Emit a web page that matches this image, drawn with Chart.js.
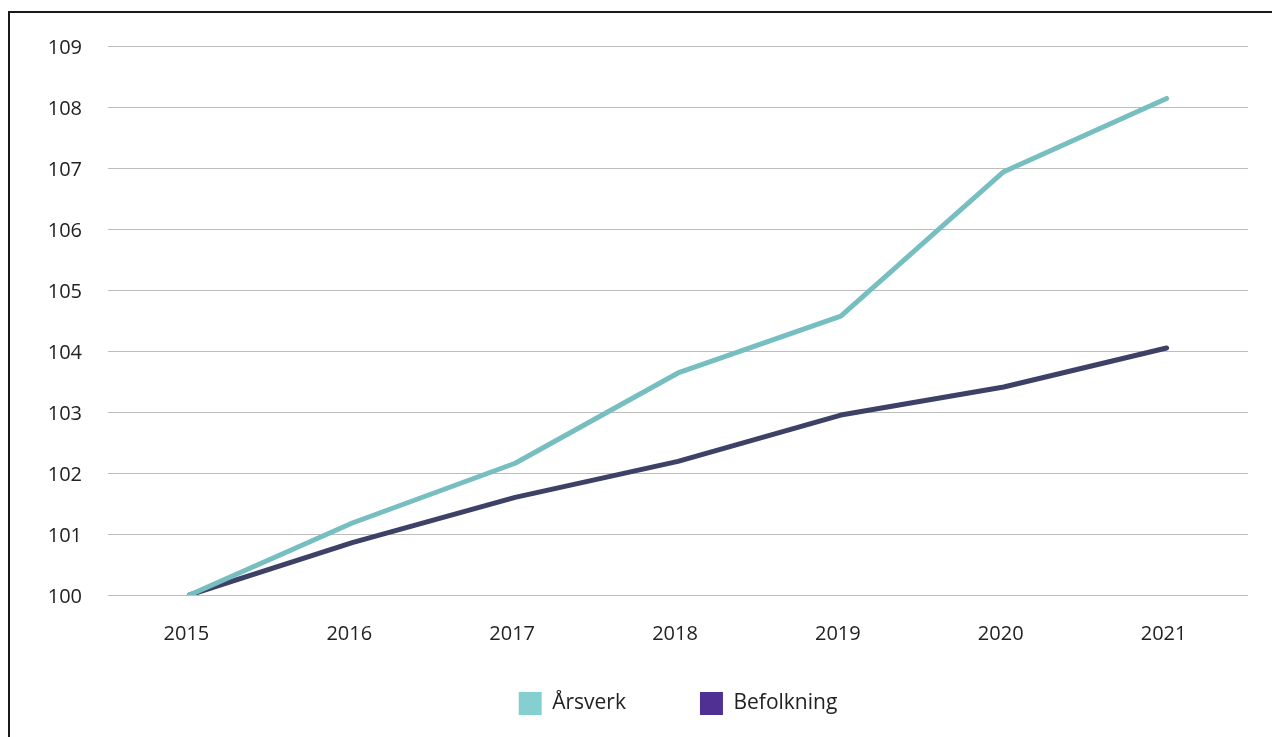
<!DOCTYPE html>
<html>
<head>
<meta charset="utf-8">
<script src="https://cdn.jsdelivr.net/npm/chart.js@4/dist/chart.umd.min.js"></script>
<style>
  html, body { margin: 0; padding: 0; background: #fff; }
  #wrap { position: relative; width: 1272px; height: 737px; overflow: hidden; }
  #frame { position: absolute; left: 8px; top: 11px; width: 1400px; height: 900px;
           border-left: 2px solid #1a1a1a; border-top: 2px solid #1a1a1a; pointer-events: none; }
  canvas { position: absolute; left: 0; top: 0; }
</style>
</head>
<body>
<div id="wrap">
  <canvas id="c" width="1272" height="737"></canvas>
  <div id="frame"></div>
</div>
<script>
const categories = ['2015', '2016', '2017', '2018', '2019', '2020', '2021'];
const arsverk = [100, 101.18, 102.16, 103.64, 104.57, 106.94, 108.14];
const befolkning = [100, 100.86, 101.6, 102.19, 102.95, 103.41, 104.05];
const seriesNames = ['Årsverk', 'Befolkning'];
const yTicks = [100, 101, 102, 103, 104, 105, 106, 107, 108, 109];

const lineColors = ['#77BEC1', '#3E4166'];
const legendColors = ['#86CFD0', '#4E3192'];
const fontFamily = '"Open Sans", "Noto Sans", sans-serif';
const LEGEND_PAD = 74;

// Expand the legend box upward after layout so its wide item spacing
// does not push the x axis up.
const legendShift = {
  id: 'legendShift',
  afterLayout(chart) {
    const lg = chart.legend;
    if (!lg) return;
    lg.top = lg.bottom - (LEGEND_PAD + 23 + 10);
    lg.height = lg.bottom - lg.top;
  }
};

new Chart(document.getElementById('c'), {
  type: 'line',
  data: {
    labels: categories,
    datasets: [
      { label: seriesNames[0], data: arsverk, borderColor: lineColors[0], backgroundColor: legendColors[0],
        borderWidth: 5, pointRadius: 0, tension: 0, borderCapStyle: 'round', borderJoinStyle: 'round' },
      { label: seriesNames[1], data: befolkning, borderColor: lineColors[1], backgroundColor: legendColors[1],
        borderWidth: 5, pointRadius: 0, tension: 0, borderCapStyle: 'round', borderJoinStyle: 'round' }
    ]
  },
  plugins: [legendShift],
  options: {
    responsive: false,
    animation: false,
    devicePixelRatio: 1,
    layout: { padding: { left: 0, right: 24, top: 46, bottom: 12 } },
    plugins: {
      tooltip: { enabled: false },
      legend: {
        position: 'bottom',
        fullSize: false,
        maxHeight: 70,
        labels: {
          boxWidth: 23, boxHeight: 23, padding: LEGEND_PAD,
          color: '#222',
          font: { family: fontFamily, size: 21 },
          generateLabels: (chart) => chart.data.datasets.map((ds, i) => ({
            text: ds.label, fillStyle: legendColors[i], strokeStyle: legendColors[i],
            lineWidth: 0, hidden: false, datasetIndex: i, fontColor: '#222'
          }))
        }
      }
    },
    scales: {
      x: {
        offset: true,
        grid: { display: false, drawTicks: false },
        border: { display: false },
        ticks: { color: '#222', padding: 27, labelOffset: -3, font: { family: fontFamily, size: 20 }, maxRotation: 0 },
        afterFit: (s) => { s.height = 60; }
      },
      y: {
        min: 100, max: 109,
        grid: { color: '#BDBDBD', lineWidth: 1, drawTicks: false },
        border: { display: false },
        ticks: {
          color: '#222', padding: 26, labelOffset: 2, font: { family: fontFamily, size: 20 },
          stepSize: 1,
          callback: (v) => yTicks.includes(v) ? String(v) : ''
        },
        afterFit: (s) => { s.width = 108; }
      }
    }
  }
});
</script>
</body>
</html>
